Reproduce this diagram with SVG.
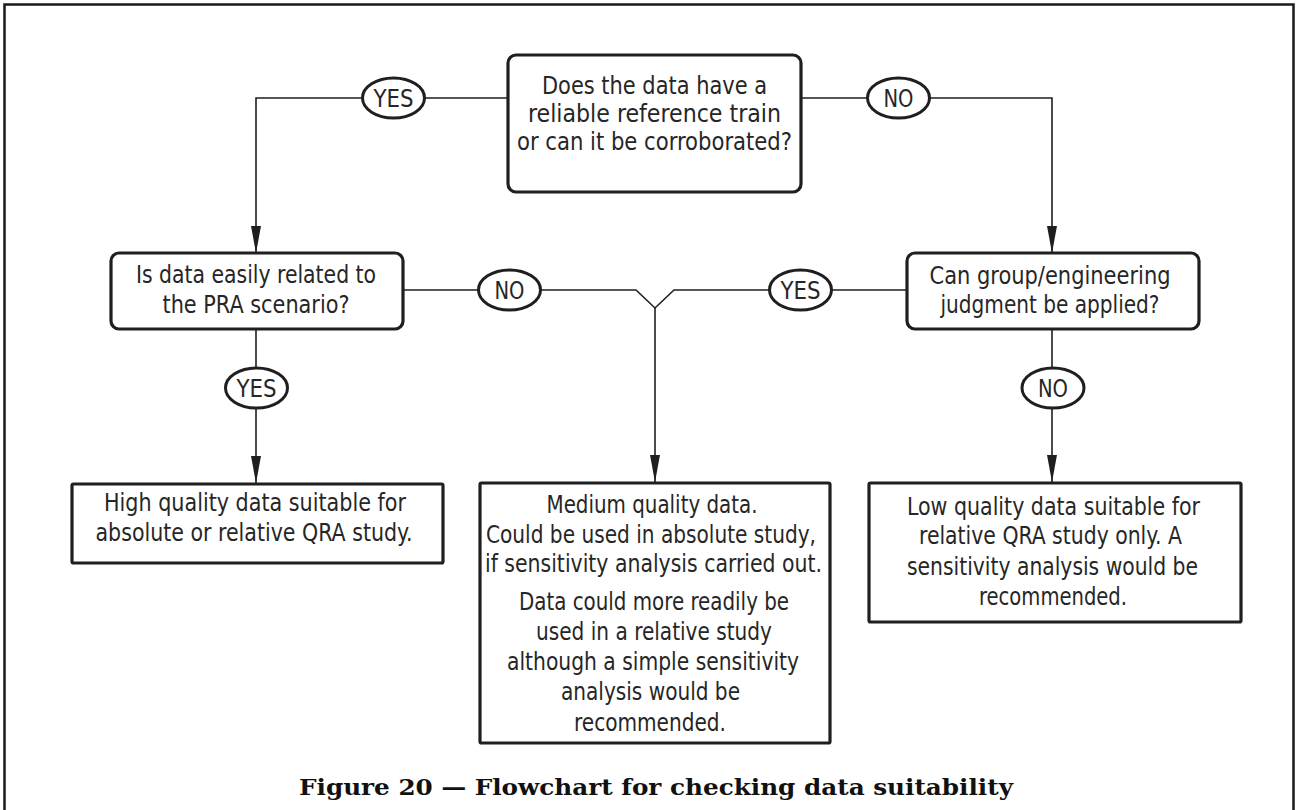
<svg xmlns="http://www.w3.org/2000/svg" width="1298" height="810" viewBox="0 0 1298 810">
  <style>
    .frame { fill: none; stroke: #1a1a1a; stroke-width: 2.5; }
    .box { fill: #ffffff; stroke: #1f1f1f; stroke-width: 3.2; }
    .conn { fill: none; stroke: #1f1f1f; stroke-width: 1.6; }
    .tag { fill: #ffffff; stroke: #1f1f1f; stroke-width: 3; }
    .t { font-family: "Liberation Sans Narrow", "DejaVu Sans Condensed", "Liberation Sans", sans-serif; font-stretch: condensed; font-size: 24px; fill: #262626; text-anchor: middle; }
    .cap { font-family: "DejaVu Serif", "Liberation Serif", serif; font-weight: bold; font-size: 23px; fill: #111111; text-anchor: middle; }
  </style>
  <defs>
    <marker id="arrow" markerUnits="userSpaceOnUse" markerWidth="28" markerHeight="11" refX="27" refY="5" orient="auto">
      <path d="M0,0 L27,5 L0,10 Z" fill="#1f1f1f"/>
    </marker>
  </defs>

  <rect width="1298" height="810" fill="#ffffff"/>
  <!-- figure frame -->
  <path class="frame" d="M4.5,810 V4.5 H1293.5 V810"/>

  <!-- connectors -->
  <g id="connectors">
    <path class="conn" d="M508,98 H256 V253" marker-end="url(#arrow)"/>
    <path class="conn" d="M801,98 H1052 V253" marker-end="url(#arrow)"/>
    <path class="conn" d="M403,290 H636 L655,308 L674,290 H907"/>
    <path class="conn" d="M655,308 V482" marker-end="url(#arrow)"/>
    <path class="conn" d="M256,329 V483" marker-end="url(#arrow)"/>
    <path class="conn" d="M1052,329 V482" marker-end="url(#arrow)"/>
  </g>

  <!-- branch labels -->
  <g id="labels">
    <g id="yes-top"><ellipse class="tag" cx="393.5" cy="98" rx="31" ry="20"/><text class="t" x="393.5" y="106.5" textLength="40" lengthAdjust="spacingAndGlyphs">YES</text></g>
    <g id="no-top"><ellipse class="tag" cx="898.5" cy="98" rx="31" ry="20"/><text class="t" x="898.5" y="106.5" textLength="30" lengthAdjust="spacingAndGlyphs">NO</text></g>
    <g id="no-mid"><ellipse class="tag" cx="509.5" cy="290" rx="31" ry="20"/><text class="t" x="509.5" y="298.5" textLength="30" lengthAdjust="spacingAndGlyphs">NO</text></g>
    <g id="yes-mid"><ellipse class="tag" cx="800.5" cy="290" rx="31" ry="20"/><text class="t" x="800.5" y="298.5" textLength="40" lengthAdjust="spacingAndGlyphs">YES</text></g>
    <g id="yes-low"><ellipse class="tag" cx="256.5" cy="388" rx="31" ry="20"/><text class="t" x="256.5" y="396.5" textLength="40" lengthAdjust="spacingAndGlyphs">YES</text></g>
    <g id="no-low"><ellipse class="tag" cx="1053" cy="388" rx="31" ry="20"/><text class="t" x="1053" y="396.5" textLength="30" lengthAdjust="spacingAndGlyphs">NO</text></g>
  </g>

  <!-- decision: reference train -->
  <g id="q-reference">
    <rect class="box" x="508" y="55" width="293" height="137" rx="8"/>
    <text class="t" x="654.5" y="94" textLength="225" lengthAdjust="spacingAndGlyphs">Does the data have a</text>
    <text class="t" x="654.5" y="122" textLength="253" lengthAdjust="spacingAndGlyphs">reliable reference train</text>
    <text class="t" x="654.5" y="150" textLength="275" lengthAdjust="spacingAndGlyphs">or can it be corroborated?</text>
  </g>

  <!-- decision: PRA scenario -->
  <g id="q-scenario">
    <rect class="box" x="111" y="253" width="292" height="76" rx="8"/>
    <text class="t" x="256" y="283" textLength="240" lengthAdjust="spacingAndGlyphs">Is data easily related to</text>
    <text class="t" x="256" y="313" textLength="187" lengthAdjust="spacingAndGlyphs">the PRA scenario?</text>
  </g>

  <!-- decision: engineering judgment -->
  <g id="q-judgment">
    <rect class="box" x="907" y="253" width="292" height="76" rx="8"/>
    <text class="t" x="1050" y="284" textLength="241" lengthAdjust="spacingAndGlyphs">Can group/engineering</text>
    <text class="t" x="1050" y="313" textLength="219" lengthAdjust="spacingAndGlyphs">judgment be applied?</text>
  </g>

  <!-- outcome: high quality -->
  <g id="r-high">
    <rect class="box" x="72" y="484" width="371" height="79" rx="1.5"/>
    <text class="t" x="255" y="511" textLength="302" lengthAdjust="spacingAndGlyphs">High quality data suitable for</text>
    <text class="t" x="254" y="541" textLength="317" lengthAdjust="spacingAndGlyphs">absolute or relative QRA study.</text>
  </g>

  <!-- outcome: medium quality -->
  <g id="r-medium">
    <rect class="box" x="480" y="483" width="350" height="260" rx="1.5"/>
    <text class="t" x="652" y="513" textLength="211" lengthAdjust="spacingAndGlyphs">Medium quality data.</text>
    <text class="t" x="651" y="543" textLength="330" lengthAdjust="spacingAndGlyphs">Could be used in absolute study,</text>
    <text class="t" x="653.5" y="572" textLength="337" lengthAdjust="spacingAndGlyphs">if sensitivity analysis carried out.</text>
    <text class="t" x="654" y="610" textLength="270" lengthAdjust="spacingAndGlyphs">Data could more readily be</text>
    <text class="t" x="654" y="640" textLength="236" lengthAdjust="spacingAndGlyphs">used in a relative study</text>
    <text class="t" x="653" y="670" textLength="292" lengthAdjust="spacingAndGlyphs">although a simple sensitivity</text>
    <text class="t" x="650.5" y="700" textLength="179" lengthAdjust="spacingAndGlyphs">analysis would be</text>
    <text class="t" x="650" y="731" textLength="152" lengthAdjust="spacingAndGlyphs">recommended.</text>
  </g>

  <!-- outcome: low quality -->
  <g id="r-low">
    <rect class="box" x="869" y="483" width="372" height="139" rx="1.5"/>
    <text class="t" x="1053.5" y="515" textLength="293" lengthAdjust="spacingAndGlyphs">Low quality data suitable for</text>
    <text class="t" x="1050.5" y="544" textLength="263" lengthAdjust="spacingAndGlyphs">relative QRA study only. A</text>
    <text class="t" x="1052.5" y="575" textLength="291" lengthAdjust="spacingAndGlyphs">sensitivity analysis would be</text>
    <text class="t" x="1053" y="605" textLength="148" lengthAdjust="spacingAndGlyphs">recommended.</text>
  </g>

  <!-- caption -->
  <text class="cap" x="656" y="795" textLength="714" lengthAdjust="spacingAndGlyphs">Figure 20 — Flowchart for checking data suitability</text>
</svg>
